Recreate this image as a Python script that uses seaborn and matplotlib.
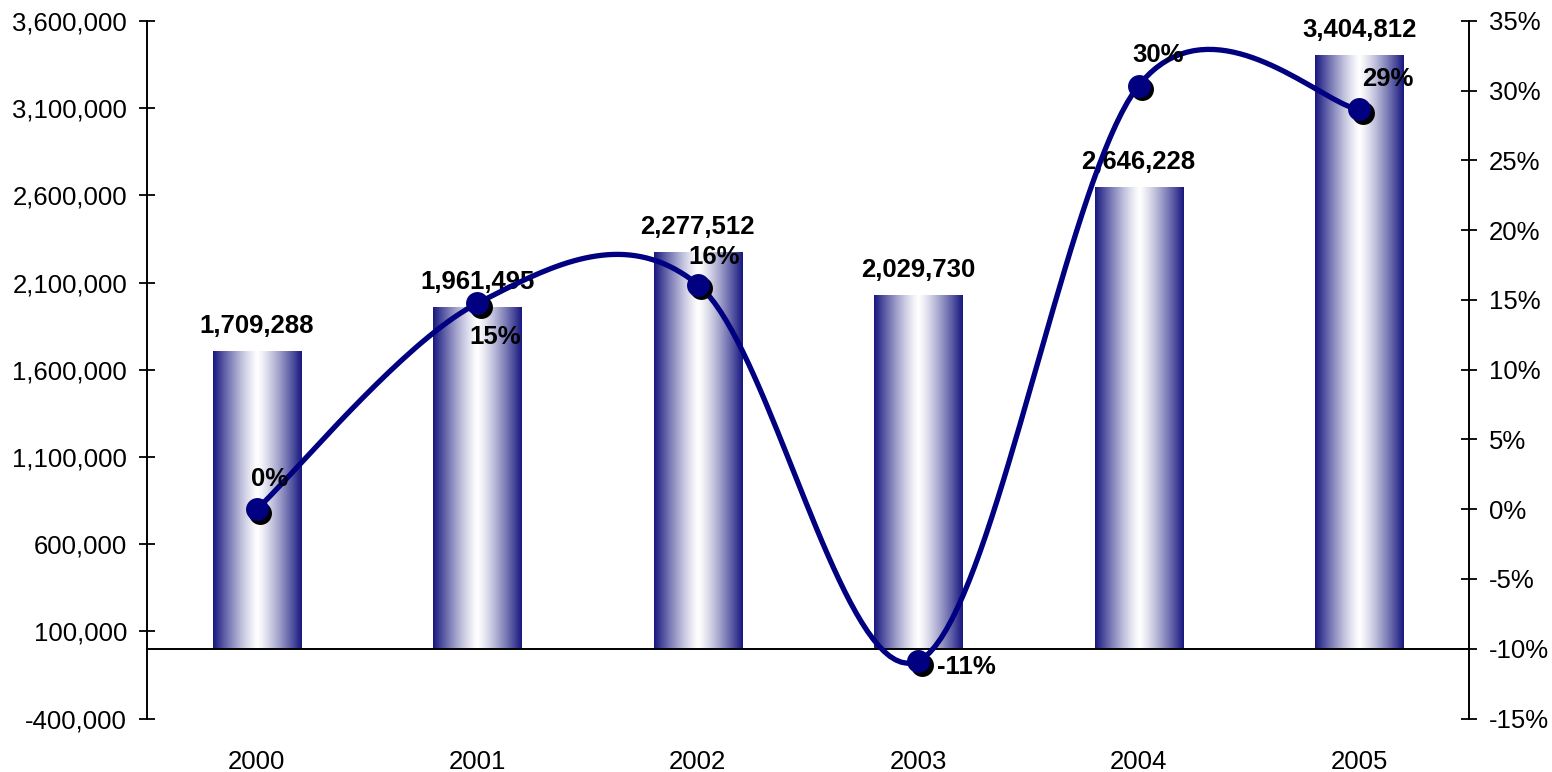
"""
Sales by year (bars) with year-on-year growth (smoothed line, right axis).
"""

import numpy as np
import pandas as pd
import matplotlib
matplotlib.use('Agg')
import matplotlib.pyplot as plt
import matplotlib.transforms as mtransforms
from matplotlib.ticker import FuncFormatter
import seaborn as sns

# --- data ---
years = ['2000', '2001', '2002', '2003', '2004', '2005']
sales = [1709288, 1961495, 2277512, 2029730, 2646228, 3404812]
growth_pct = [0.0, 14.76, 16.11, -10.88, 30.37, 28.67]

# where each growth label sits relative to its marker (points)
pct_label_offsets = [(9, 22), (13, -24), (12, 20), (35, -4), (14, 22), (21, 22)]

NAVY = '#000080'
BAR_EDGE = (0.09, 0.09, 0.50)
FS = 18.5


def smooth_curve(xs, ys, steps=40):
    """Excel-style smoothed line: cubic bezier through the points."""
    pts = np.column_stack([xs, ys]).astype(float)
    n = len(pts)
    out = []
    for i in range(n - 1):
        p0 = pts[max(i - 1, 0)]
        p1 = pts[i]
        p2 = pts[i + 1]
        p3 = pts[min(i + 2, n - 1)]
        c1 = p1 + (p2 - p0) / 6
        c2 = p2 - (p3 - p1) / 6
        t = np.linspace(0, 1, steps)[:, None]
        seg = (1 - t) ** 3 * p1 + 3 * (1 - t) ** 2 * t * c1 + 3 * (1 - t) * t ** 2 * c2 + t ** 3 * p2
        out.append(seg if i == 0 else seg[1:])
    return np.vstack(out)


def gradient_fill(ax, patch):
    """Replace a flat bar with a navy-white-navy horizontal gradient."""
    u = np.linspace(0, 1, 256)
    t = np.abs(2 * u - 1) ** 1.25
    white = np.array([1.0, 1.0, 1.0])
    cols = white[None, :] * (1 - t[:, None]) + np.array(BAR_EDGE)[None, :] * t[:, None]
    img = cols[None, :, :]
    x0, y0 = patch.get_x(), patch.get_y()
    w, h = patch.get_width(), patch.get_height()
    im = ax.imshow(img, extent=[x0, x0 + w, y0, y0 + h], aspect='auto',
                   interpolation='bilinear', zorder=1)
    im.set_clip_path(patch)
    patch.set_facecolor('none')
    patch.set_edgecolor('none')


sns.set_style('white')
plt.rcParams['font.family'] = ['Liberation Sans', 'DejaVu Sans']
plt.rcParams['text.color'] = 'black'
plt.rcParams['xtick.color'] = 'black'
plt.rcParams['ytick.color'] = 'black'
plt.rcParams['axes.labelcolor'] = 'black'

df = pd.DataFrame({'year': years, 'sales': sales, 'growth': growth_pct})

fig = plt.figure(figsize=(15.52, 7.72), dpi=100)
ax = fig.add_axes([0.0945, 0.0693, 0.8522, 0.9035])

sns.barplot(data=df, x='year', y='sales', ax=ax, width=0.4, color=NAVY)
for p in list(ax.patches):
    gradient_fill(ax, p)

n = len(years)
ax.set_xlim(-0.5, n - 0.5)
ax.set_ylim(-400000, 3600000)
ax.set_yticks(np.arange(-400000, 3600001, 500000))
ax.yaxis.set_major_formatter(FuncFormatter(lambda v, _: f'{v:,.0f}'))
ax.set_xlabel('')
ax.set_ylabel('')

# x axis line sits at zero with ticks between categories
ax.spines['bottom'].set_position(('data', 0))
ax.spines['top'].set_visible(False)
ax.spines['right'].set_visible(False)
for s in ['left', 'bottom']:
    ax.spines[s].set_linewidth(1.4)
    ax.spines[s].set_color('black')
ax.spines['bottom'].set_zorder(5)
ax.set_xticks(np.arange(0.5, n - 0.5, 1.0))
ax.set_xticklabels([])
ax.tick_params(axis='x', direction='inout', length=13, width=1.3, color='black')
ax.tick_params(axis='y', direction='inout', length=12, width=1.3, color='black',
               labelsize=FS, labelcolor='black', pad=8)

# category labels at the bottom of the plot area
sec = ax.secondary_xaxis('bottom')
sec.set_xticks(range(n), labels=years)
sec.spines['bottom'].set_visible(False)
sec.tick_params(length=0, labelsize=FS, labelcolor='black', pad=23)

# value labels above the bars
for i, v in enumerate(sales):
    ax.annotate(f'{v:,}', (i, v), xytext=(0, 13), textcoords='offset points',
                ha='center', va='baseline', fontsize=FS, fontweight='bold',
                color='black')

# growth line on the right axis
ax2 = ax.twinx()
ax2.set_ylim(-15, 35)
ax2.set_yticks(np.arange(-15, 36, 5))
ax2.yaxis.set_major_formatter(FuncFormatter(lambda v, _: f'{v:.0f}%'))
for s in ['top', 'left', 'bottom']:
    ax2.spines[s].set_visible(False)
ax2.spines['right'].set_linewidth(1.4)
ax2.spines['right'].set_color('black')
ax2.tick_params(axis='y', direction='inout', length=12, width=1.3, color='black',
                labelsize=FS, labelcolor='black', pad=8)

xs = np.arange(n)
curve = smooth_curve(xs, growth_pct)
ax2.plot(curve[:, 0], curve[:, 1], color=NAVY, lw=3.8, solid_capstyle='round', zorder=2)

shadow = ax2.transData + mtransforms.ScaledTranslation(2.6 / 72, -2.6 / 72, fig.dpi_scale_trans)
ax2.plot(xs, growth_pct, 'o', color='black', ms=16.5, mec='none', transform=shadow, zorder=3)
ax2.plot(xs, growth_pct, 'o', color=NAVY, ms=16.5, mec='none', zorder=4)

for i, g in enumerate(growth_pct):
    ax2.annotate(f'{round(g):.0f}%', (i, g), xytext=pct_label_offsets[i],
                 textcoords='offset points', ha='center', va='center',
                 fontsize=FS, fontweight='bold', color='black', zorder=5)

fig.savefig('out.png', dpi=100)
